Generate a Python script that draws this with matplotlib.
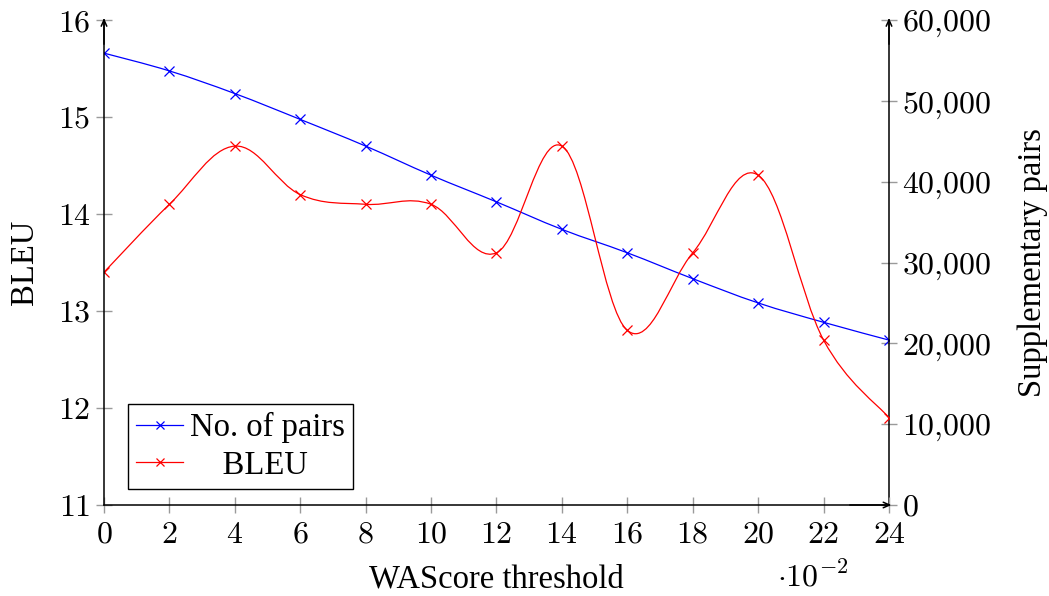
import numpy as np
import matplotlib
matplotlib.use("Agg")
import matplotlib.pyplot as plt
from matplotlib.path import Path
from matplotlib.patches import PathPatch
from matplotlib.ticker import FuncFormatter

# ---- data ----
thresholds = [0, 0.02, 0.04, 0.06, 0.08, 0.10, 0.12, 0.14, 0.16, 0.18, 0.20, 0.22, 0.24]
bleu = [13.4, 14.1, 14.7, 14.2, 14.1, 14.1, 13.6, 14.7, 12.8, 13.6, 14.4, 12.7, 11.9]
pairs = [55900, 53700, 50900, 47700, 44400, 40800, 37500, 34100, 31200, 28000, 25000, 22600, 20400]
x_ticks = [0, 0.02, 0.04, 0.06, 0.08, 0.10, 0.12, 0.14, 0.16, 0.18, 0.20, 0.22, 0.24]
bleu_ticks = [11, 12, 13, 14, 15, 16]
pairs_ticks = [0, 10000, 20000, 30000, 40000, 50000, 60000]

plt.rcParams['mathtext.fontset'] = 'cm'
plt.rcParams['font.family'] = ['Liberation Serif', 'DejaVu Serif']

W, H = 1049, 596
fig = plt.figure(figsize=(W / 100, H / 100), dpi=100)
ax = fig.add_axes([104 / W, 1 - 505 / H, (889 - 104) / W, (505 - 20) / H])
ax2 = ax.twinx()

TICK_FS = 23
LABEL_FS = 23.5


def smooth_path(xs, ys, factor=0.18):
    pts = np.column_stack([xs, ys]).astype(float)
    n = len(pts)
    verts = [pts[0]]
    codes = [Path.MOVETO]
    for i in range(n - 1):
        p0 = pts[i - 1] if i > 0 else pts[i]
        p1 = pts[i]
        p2 = pts[i + 1]
        p3 = pts[i + 2] if i + 2 < n else pts[i + 1]
        c1 = p1 + factor * (p2 - p0)
        c2 = p2 - factor * (p3 - p1)
        verts += [c1, c2, p2]
        codes += [Path.CURVE4] * 3
    return Path(verts, codes)


blue = '#0000ff'
red = '#ff0000'
lw = 0.9

ax2.add_patch(PathPatch(smooth_path(thresholds, pairs), fill=False, edgecolor=blue, lw=lw))
ax2.plot(thresholds, pairs, linestyle='none', marker='x', color=blue, ms=7, mew=0.9)
ax.add_patch(PathPatch(smooth_path(thresholds, bleu), fill=False, edgecolor=red, lw=lw))
ax.plot(thresholds, bleu, linestyle='none', marker='x', color=red, ms=7, mew=0.9)

ax.set_zorder(ax2.get_zorder() + 1)
ax.patch.set_visible(False)

ax.set_xlim(0, 0.24)
ax.set_ylim(11, 16)
ax2.set_ylim(0, 60000)

ax.set_xticks(x_ticks)
ax.xaxis.set_major_formatter(FuncFormatter(lambda v, p: r'$%d$' % round(v * 100)))
ax.set_yticks(bleu_ticks)
ax.yaxis.set_major_formatter(FuncFormatter(lambda v, p: r'$%d$' % round(v)))
ax2.set_yticks(pairs_ticks)
ax2.yaxis.set_major_formatter(FuncFormatter(lambda v, p: ('$' + '{:,}'.format(int(v)).replace(',', '{,}') + '$')))

for a in (ax, ax2):
    for s in a.spines.values():
        s.set_visible(False)
    a.tick_params(direction='inout', length=11, width=1, color='#9a9a9a', labelsize=TICK_FS, pad=4)
ax.spines['left'].set_visible(True)
ax.spines['bottom'].set_visible(True)
ax2.spines['right'].set_visible(True)
for s in (ax.spines['left'], ax.spines['bottom'], ax2.spines['right']):
    s.set_linewidth(1.1)
    s.set_color('black')
ax.tick_params(axis='x', pad=6)

arrow = dict(arrowstyle='->,head_length=0.45,head_width=0.2', color='black', lw=1.1, shrinkA=0, shrinkB=0)
ax.annotate('', xy=(0, 1.004), xytext=(0, 0.95), xycoords='axes fraction', arrowprops=arrow)
ax.annotate('', xy=(1.003, 0), xytext=(0.95, 0), xycoords='axes fraction', arrowprops=arrow)
ax.annotate('', xy=(1, 1.004), xytext=(1, 0.95), xycoords='axes fraction', arrowprops=arrow)

ax.set_xlabel('WAScore threshold', fontsize=LABEL_FS, labelpad=10)
ax.set_ylabel('BLEU', fontsize=LABEL_FS, labelpad=13)
ax2.set_ylabel('Supplementary pairs', fontsize=LABEL_FS, labelpad=19)
ax.text(0.903, -0.15, r'$\cdot 10^{-2}$', transform=ax.transAxes, fontsize=TICK_FS, ha='center', va='center')

h1 = plt.Line2D([], [], color=blue, marker='x', lw=lw, ms=6, mew=0.9)
h2 = plt.Line2D([], [], color=red, marker='x', lw=lw, ms=6, mew=0.9)
leg = ax.legend([h1, h2], ['No. of pairs', '    BLEU'], loc='lower left',
                bbox_to_anchor=(24 / 785, 16 / 485), fontsize=LABEL_FS, frameon=True,
                fancybox=False, edgecolor='black', framealpha=1, borderpad=0.25,
                handlelength=1.45, handletextpad=0.2, labelspacing=0.22, borderaxespad=0)
leg.get_frame().set_linewidth(1.0)

fig.savefig('out.png', dpi=100)
